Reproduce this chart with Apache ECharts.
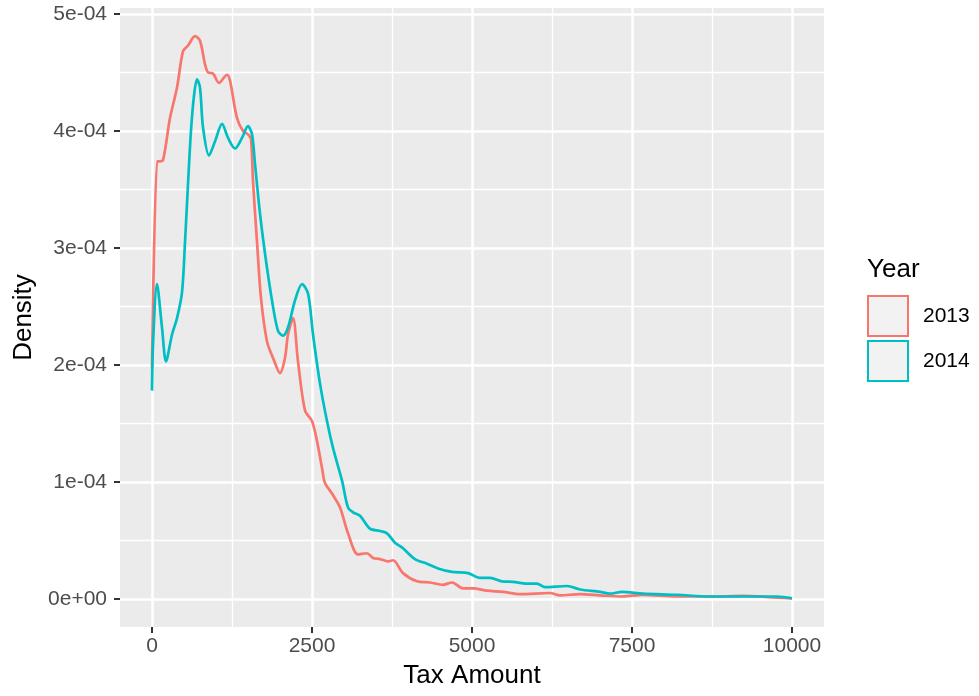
<!DOCTYPE html>
<html>
<head>
<meta charset="utf-8">
<script src="https://cdn.jsdelivr.net/npm/echarts@6/dist/echarts.min.js"></script>
<style>
html,body{margin:0;padding:0;background:#fff;}
#chart{width:979px;height:696px;}
</style>
</head>
<body>
<div id="chart"></div>
<script>
// Density values are in units of 1e-4
const x2013 = [0, 78, 109, 172, 281, 391, 484, 563, 672, 750, 828, 875, 953, 1047, 1172, 1219, 1328, 1422, 1500, 1547, 1578, 1641, 1703, 1797, 1891, 2000, 2078, 2125, 2203, 2281, 2391, 2500, 2578, 2656, 2703, 2813, 2938, 3063, 3219, 3359, 3453, 3563, 3688, 3766, 3922, 4141, 4344, 4547, 4688, 4859, 5016, 5234, 5484, 5750, 6219, 6375, 6688, 7000, 7344, 7672, 8203, 8719, 9234, 9766, 10000];
const y2013 = [1.97, 3.74, 3.74, 3.75, 4.11, 4.37, 4.68, 4.73, 4.81, 4.77, 4.57, 4.50, 4.49, 4.41, 4.48, 4.43, 4.11, 4.00, 3.97, 3.93, 3.57, 3.05, 2.57, 2.20, 2.06, 1.93, 2.06, 2.26, 2.40, 2.03, 1.61, 1.52, 1.35, 1.12, 0.99, 0.90, 0.78, 0.56, 0.38, 0.39, 0.35, 0.34, 0.32, 0.33, 0.22, 0.15, 0.14, 0.12, 0.14, 0.09, 0.09, 0.07, 0.06, 0.04, 0.05, 0.03, 0.04, 0.03, 0.02, 0.034, 0.02, 0.02, 0.025, 0.01, 0.005];
const x2014 = [0, 16, 78, 156, 219, 313, 391, 469, 516, 563, 609, 656, 703, 750, 797, 891, 984, 1094, 1188, 1297, 1406, 1500, 1563, 1609, 1688, 1766, 1875, 1969, 2047, 2125, 2234, 2344, 2438, 2516, 2625, 2734, 2828, 2969, 3063, 3141, 3250, 3406, 3563, 3672, 3797, 3906, 4109, 4297, 4469, 4688, 4938, 5125, 5281, 5469, 5641, 5859, 6016, 6141, 6484, 6688, 7000, 7156, 7344, 7672, 8203, 8719, 9234, 9766, 10000];
const y2014 = [1.78, 2.18, 2.69, 2.32, 2.03, 2.26, 2.40, 2.62, 3.05, 3.55, 4.00, 4.30, 4.44, 4.37, 4.03, 3.79, 3.91, 4.06, 3.94, 3.85, 3.94, 4.04, 3.97, 3.72, 3.29, 2.95, 2.55, 2.29, 2.25, 2.32, 2.55, 2.69, 2.61, 2.26, 1.84, 1.52, 1.29, 1.01, 0.78, 0.74, 0.71, 0.60, 0.58, 0.56, 0.48, 0.44, 0.34, 0.30, 0.26, 0.23, 0.22, 0.18, 0.18, 0.15, 0.145, 0.13, 0.13, 0.10, 0.11, 0.08, 0.06, 0.045, 0.06, 0.045, 0.035, 0.02, 0.02, 0.02, 0.005];
const xMajorTicks = [0, 2500, 5000, 7500, 10000];
const xMinorTicks = [1250, 3750, 6250, 8750];
const yMajorTicks = [0, 1, 2, 3, 4, 5];
const yMinorTicks = [0.5, 1.5, 2.5, 3.5, 4.5];
const seriesNames = ['2013', '2014'];
const seriesColors = ['#F8766D', '#00BFC4'];

const FONT = 'Liberation Sans, Arial, Helvetica, sans-serif';
const pairs = (xs, ys) => xs.map((x, i) => [x, ys[i]]);

const chart = echarts.init(document.getElementById('chart'), null, {renderer: 'canvas'});
const xRange = {min: -500, max: 10500};
const yRange = {min: -0.2405, max: 5.0505};

chart.setOption({
  animation: false,
  backgroundColor: '#FFFFFF',
  title: {
    text: 'Year', left: 862, top: 252, padding: 5,
    textStyle: {fontFamily: FONT, fontSize: 26, fontWeight: 'normal', color: '#000'}
  },
  legend: {
    orient: 'vertical', left: 867, top: 295, padding: 0,
    itemWidth: 40, itemHeight: 40, itemGap: 3,
    textStyle: {fontFamily: FONT, fontSize: 21, color: '#000', padding: [0, 0, 0, 10]},
    data: seriesNames.map((n, i) => ({
      name: n, icon: 'rect',
      itemStyle: {color: '#F2F2F2', borderColor: seriesColors[i], borderWidth: 2}
    }))
  },
  grid: {
    left: 120, top: 8, right: 155, bottom: 69,
    show: true, backgroundColor: '#EBEBEB', borderWidth: 0
  },
  xAxis: [{
    type: 'value', ...xRange,
    name: 'Tax Amount', nameLocation: 'middle', nameGap: 36,
    nameTextStyle: {fontFamily: FONT, fontSize: 26, color: '#000'},
    axisLine: {show: false, onZero: false},
    axisTick: {show: true, length: 6, lineStyle: {color: '#333', width: 2}, customValues: xMajorTicks},
    axisLabel: {fontFamily: FONT, fontSize: 21, color: '#4D4D4D', margin: 9, customValues: xMajorTicks,
      formatter: v => String(v)},
    splitLine: {show: true, lineStyle: {color: '#FFF', width: 2.5}}
  }, {
    type: 'value', ...xRange, position: 'top',
    axisLine: {show: false, onZero: false},
    axisTick: {show: false, customValues: xMinorTicks},
    axisLabel: {show: false, customValues: xMinorTicks},
    splitLine: {show: true, lineStyle: {color: '#FFF', width: 1.3}}
  }],
  yAxis: [{
    type: 'value', ...yRange,
    name: 'Density', nameLocation: 'middle', nameGap: 82, nameRotate: 90,
    nameTextStyle: {fontFamily: FONT, fontSize: 26, color: '#000'},
    axisLine: {show: false, onZero: false},
    axisTick: {show: true, length: 6, lineStyle: {color: '#333', width: 2}, customValues: yMajorTicks},
    axisLabel: {
      fontFamily: FONT, fontSize: 21, color: '#4D4D4D', margin: 13, customValues: yMajorTicks,
      formatter: v => v === 0 ? '0e+00' : v + 'e-04'
    },
    splitLine: {show: true, lineStyle: {color: '#FFF', width: 2.5}}
  }, {
    type: 'value', ...yRange, position: 'right',
    axisLine: {show: false, onZero: false},
    axisTick: {show: false, customValues: yMinorTicks},
    axisLabel: {show: false, customValues: yMinorTicks},
    splitLine: {show: true, lineStyle: {color: '#FFF', width: 1.3}}
  }],
  series: [
    {name: seriesNames[0], type: 'line', data: pairs(x2013, y2013), smooth: 0.3, showSymbol: false, z: 3,
     itemStyle: {color: seriesColors[0]}, lineStyle: {color: seriesColors[0], width: 2.7}},
    {name: seriesNames[1], type: 'line', data: pairs(x2014, y2014), smooth: 0.3, showSymbol: false, z: 3,
     itemStyle: {color: seriesColors[1]}, lineStyle: {color: seriesColors[1], width: 2.7}}
  ]
});
</script>
</body>
</html>
